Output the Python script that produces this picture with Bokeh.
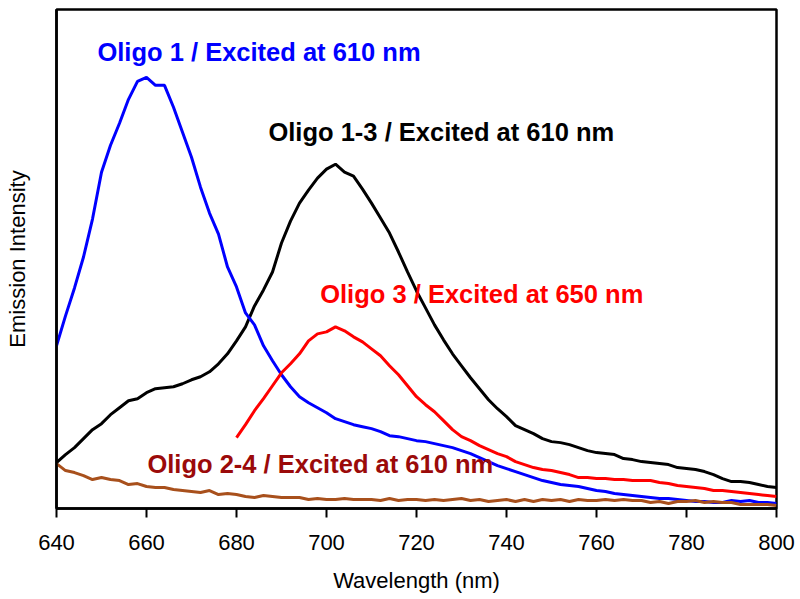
from bokeh.plotting import figure
from bokeh.models import FixedTicker, Range1d
from bokeh.core.properties import value
from bokeh.embed import file_html
from bokeh.resources import INLINE

# ---- data (arbitrary intensity units) ----
wl_full = list(range(640, 801, 2))
oligo1 = [163, 193, 221, 252, 290, 337, 364, 386, 410, 428, 432, 424, 424, 402, 377, 352,
          322, 296, 275, 242, 222, 196, 184, 163, 148, 134, 122, 112, 106, 101, 96, 90,
          87, 84, 82, 80, 77, 73, 72, 70, 68, 67, 65, 63, 61, 58, 55, 51, 47, 43,
          40, 37, 34, 31, 28, 26, 24, 23, 22, 20, 18, 17, 15, 14, 13, 12, 11, 10,
          10, 9, 8, 7, 7, 6, 6, 8, 7, 8, 6, 6, 5]
oligo13 = [46, 54, 61, 70, 79, 85, 94, 101, 108, 110, 116, 120, 121, 122, 125, 129,
           132, 137, 145, 155, 168, 182, 203, 219, 237, 266, 288, 306, 319, 331, 340, 345,
           337, 333, 320, 306, 291, 276, 257, 237, 218, 201, 184, 169, 155, 143, 131, 120,
           109, 100, 92, 83, 79, 75, 70, 67, 66, 64, 61, 58, 56, 55, 54, 50, 49, 47,
           46, 45, 44, 41, 40, 39, 37, 34, 30, 27, 27, 26, 24, 22, 21]
oligo24 = [45, 38, 36, 33, 29, 31, 29, 28, 24, 25, 22, 21, 21, 19, 18, 17, 16, 18, 14,
           15, 14, 12, 11, 13, 12, 11, 11, 11, 9, 10, 9, 9, 10, 9, 9, 9, 8, 10, 8, 9,
           9, 8, 9, 8, 9, 10, 8, 9, 7, 8, 9, 7, 9, 7, 9, 8, 9, 7, 9, 8, 8, 9, 8, 9,
           8, 8, 6, 7, 5, 7, 7, 8, 6, 7, 6, 6, 4, 4, 4, 4, 3]
wl_red = list(range(680, 801, 2))
oligo3 = [71, 84, 98, 110, 123, 136, 145, 155, 168, 175, 177, 182, 178, 172, 167, 160,
          153, 143, 134, 123, 112, 104, 97, 88, 79, 72, 68, 63, 59, 55, 52, 47, 44, 41,
          39, 38, 36, 34, 31, 31, 30, 30, 29, 29, 28, 28, 28, 26, 25, 23, 22, 21, 20,
          18, 18, 17, 16, 15, 14, 13, 12]

x_ticks = [640, 660, 680, 700, 720, 740, 760, 780, 800]
labels = ["Oligo 1 / Excited at 610 nm", "Oligo 1-3 / Excited at 610 nm",
          "Oligo 3 / Excited at 650 nm", "Oligo 2-4 / Excited at 610 nm"]
label_x = [649.1, 687.1, 698.6, 660.2]
label_y = [457, 377, 215, 45]
label_colors = ["#0000FF", "#000000", "#FF0000", "#9B0A0A"]

FONT = "Liberation Sans"

p = figure(width=800, height=599, output_backend="svg", toolbar_location=None,
           x_range=Range1d(640, 800), y_range=Range1d(0, 500),
           min_border_left=56, min_border_right=24, min_border_top=9, min_border_bottom=91)

p.background_fill_color = "white"
p.border_fill_color = "white"
p.outline_line_color = "black"
p.outline_line_width = 2.5
p.xgrid.visible = False
p.ygrid.visible = False

p.line(wl_full, oligo13, line_color="black", line_width=3)
p.line(wl_full, oligo1, line_color="#0000FF", line_width=3)
p.line(wl_red, oligo3, line_color="#FF0000", line_width=3)
p.line(wl_full, oligo24, line_color="#A8501C", line_width=3)

p.text(x=label_x, y=label_y, text=labels, text_color=label_colors,
       text_font=value(FONT), text_font_size="25.5px", text_font_style="bold",
       text_align="left", text_baseline="alphabetic")

xa = p.xaxis[0]
xa.ticker = FixedTicker(ticks=x_ticks)
xa.axis_label = "Wavelength (nm)"
xa.axis_label_text_font = FONT
xa.axis_label_text_font_size = "22px"
xa.axis_label_text_font_style = "normal"
xa.axis_label_text_color = "black"
xa.axis_label_standoff = 15
xa.major_label_text_font = FONT
xa.major_label_text_font_size = "22px"
xa.major_label_text_color = "black"
xa.major_label_standoff = 17
xa.major_tick_out = 9
xa.major_tick_in = 0
xa.minor_tick_out = 0
xa.minor_tick_in = 0
xa.axis_line_width = 2.5
xa.major_tick_line_width = 2
xa.axis_line_color = "black"
xa.major_tick_line_color = "black"

ya = p.yaxis[0]
ya.ticker = FixedTicker(ticks=[])
ya.axis_label = "Emission Intensity"
ya.axis_label_text_font = FONT
ya.axis_label_text_font_size = "22px"
ya.axis_label_text_font_style = "normal"
ya.axis_label_text_color = "black"
ya.axis_label_standoff = 27
ya.major_tick_out = 0
ya.major_tick_in = 0
ya.minor_tick_out = 0
ya.minor_tick_in = 0
ya.major_label_standoff = 0
ya.axis_line_width = 2.5
ya.axis_line_color = "black"

open("out.html", "w").write(file_html(p, INLINE))
